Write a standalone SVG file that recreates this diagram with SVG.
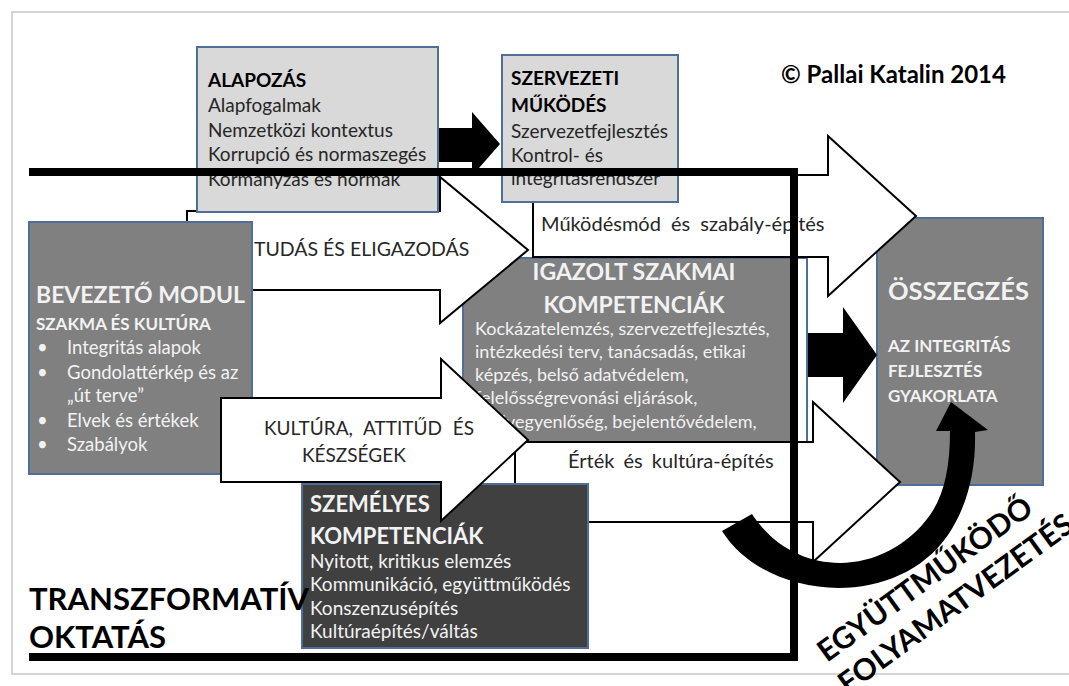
<svg xmlns="http://www.w3.org/2000/svg" width="1069" height="686" viewBox="0 0 1069 686">
<style>
.t{font-family:Lato,"Liberation Sans",sans-serif}
.b{font-weight:bold}
.lt{fill:#d9d9d9;stroke:#4f6f98;stroke-width:2}
.md{fill:#808080;stroke:#4f6f98;stroke-width:2}
.dk{fill:#404040;stroke:#4f6f98;stroke-width:2}
.wa{fill:#fff;stroke:#000;stroke-width:2;stroke-linejoin:miter}
.ba{fill:#000}
.dt{fill:#262626}
.wt{fill:#f2f2f2}
</style>
<rect x="0" y="0" width="1069" height="686" fill="#fff"/>
<rect x="12" y="12" width="1064" height="662" fill="#fff" stroke="#d4d4d4" stroke-width="2"/>

<g id="igazolt">
<rect class="md" x="463" y="258" width="344" height="184"/>
<rect x="798" y="259" width="8" height="182" fill="#fff"/>
<text class="t b wt" x="634" y="280" font-size="23" text-anchor="middle">IGAZOLT SZAKMAI</text>
<text class="t b wt" x="634" y="313" font-size="23" text-anchor="middle">KOMPETENCIÁK</text>
<g class="t wt" font-size="18">
<text x="475" y="335">Kockázatelemzés, szervezetfejlesztés,</text>
<text x="475" y="358">intézkedési terv,  tanácsadás, etikai</text>
<text x="475" y="381">képzés,  belső adatvédelem,</text>
<text x="475" y="404">felelősségrevonási eljárások,</text>
<text x="475" y="428">esélyegyenlőség, bejelentővédelem,</text>
</g>
</g>

<g id="osszegzes">
<rect class="md" x="877" y="218" width="166" height="267"/>
<text class="t b wt" x="888" y="300" font-size="25.5">ÖSSZEGZÉS</text>
<text class="t b wt" x="888" y="352" font-size="17">AZ INTEGRITÁS</text>
<text class="t b wt" x="888" y="377" font-size="17">FEJLESZTÉS</text>
<text class="t b wt" x="888" y="402" font-size="17">GYAKORLATA</text>
</g>

<g id="connectors">
<g id="arrow-tudas">
<path class="wa" d="M187,211 H440 V177 L528,250 L440,323 V290 H187 Z"/>
<text class="t dt" x="254" y="256" font-size="19.5">TUDÁS ÉS ELIGAZODÁS</text>
</g>
<g id="arrow-mukodes">
<path class="wa" d="M533,175 H828 V136 L916,216 L828,296 V257 H533 Z"/>
<text class="t dt" x="541" y="231" font-size="20" word-spacing="5">Működésmód és szabály-építés</text>
</g>
<g id="arrow-ertek">
<path class="wa" d="M515,442 H813 V402 L900,482 L813,562 V522 H515 Z"/>
<text class="t dt" x="568" y="468" font-size="20" word-spacing="4">Érték és kultúra-építés</text>
</g>
<path id="arrow-alap-szerv" class="ba" d="M438,128 H472 V112 L500,144 L472,176 V162 H438 Z"/>
<path id="arrow-igazolt-ossz" class="ba" d="M808,333 H843 V307 L877,355 L843,403 V377 H808 Z"/>
</g>

<g id="alapozas">
<rect class="lt" x="197" y="47" width="241" height="165"/>
<text class="t b" x="208" y="87" font-size="19" fill="#000">ALAPOZÁS</text>
<g class="t dt" font-size="19">
<text x="208" y="112">Alapfogalmak</text>
<text x="208" y="137">Nemzetközi kontextus</text>
<text x="208" y="161">Korrupció és normaszegés</text>
<text x="208" y="186">Kormányzás és normák</text>
</g>
</g>

<g id="szervezeti">
<rect class="lt" x="502" y="55" width="176" height="147"/>
<text class="t b" x="511" y="85" font-size="19" fill="#000">SZERVEZETI</text>
<text class="t b" x="511" y="112" font-size="19" fill="#000">MŰKÖDÉS</text>
<g class="t dt" font-size="19">
<text x="511" y="138">Szervezetfejlesztés</text>
<text x="511" y="162">Kontrol- és</text>
<text x="511" y="185">integritásrendszer</text>
</g>
</g>

<g id="bevezeto">
<rect class="md" x="29" y="222" width="223" height="252"/>
<text class="t b wt" x="36" y="303" font-size="23">BEVEZETŐ MODUL</text>
<text class="t b wt" x="36" y="330" font-size="17">SZAKMA ÉS KULTÚRA</text>
<g class="t wt" font-size="18.5">
<text x="37" y="354">•</text><text x="67" y="354">Integritás alapok</text>
<text x="37" y="379">•</text><text x="67" y="379">Gondolattérkép és az</text>
<text x="67" y="402">„út terve”</text>
<text x="37" y="427">•</text><text x="67" y="427">Elvek és értékek</text>
<text x="37" y="451">•</text><text x="67" y="451">Szabályok</text>
</g>
</g>

<g id="szemelyes">
<rect class="dk" x="302" y="484" width="286" height="164"/>
<text class="t b wt" x="310" y="512" font-size="22">SZEMÉLYES</text>
<text class="t b wt" x="310" y="544" font-size="22">KOMPETENCIÁK</text>
<g class="t wt" font-size="19">
<text x="310" y="568">Nyitott, kritikus elemzés</text>
<text x="310" y="591">Kommunikáció, együttműködés</text>
<text x="310" y="615">Konszenzusépítés</text>
<text x="310" y="638">Kultúraépítés/váltás</text>
</g>
</g>

<g id="arrow-kultura">
<path class="wa" d="M221,398 H441 V359 L528,440 L441,521 V482 H221 Z"/>
<text class="t dt" x="264" y="435" font-size="19" word-spacing="6">KULTÚRA, ATTITŰD ÉS</text>
<text class="t dt" x="302" y="462" font-size="19">KÉSZSÉGEK</text>
</g>

<path id="frame-line" d="M29,172 H794 V657 H29" fill="none" stroke="#000" stroke-width="8" stroke-linejoin="miter"/>

<g id="transzformativ">
<text class="t b" x="29" y="610" font-size="31" fill="#000">TRANSZFORMATÍV</text>
<text class="t b" x="29" y="648" font-size="31" fill="#000">OKTATÁS</text>
</g>

<text id="copyright" class="t b" x="781" y="83" font-size="24" fill="#000">©  Pallai Katalin 2014</text>

<g id="curved-arrow">
<path class="ba" d="M722,531 C765,600 895,612 948,535 C968,505 976,470 975,432 L988,430 L951,402 L936,431 L950,431 C950,468 944,495 930,515 C885,578 795,580 752,514 Z"/>
</g>

<g id="egyuttmukodo" transform="translate(827,663) rotate(-36)">
<text class="t b" x="0" y="0" font-size="30" fill="#000">EGYÜTTMŰKÖDŐ</text>
<text class="t b" x="-2" y="38" font-size="30" fill="#000">FOLYAMATVEZETÉS</text>
</g>
</svg>
